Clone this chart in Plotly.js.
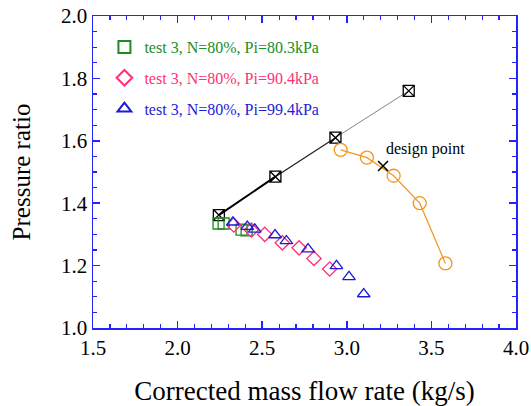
<!DOCTYPE html>
<html>
<head>
<meta charset="utf-8">
<script src="https://cdn.plot.ly/plotly-3.0.1.min.js"></script>
<style>html,body{margin:0;padding:0;background:#fff;}#chart{width:531px;height:406px;}</style>
</head>
<body>
<div id="chart"></div>
<script>
// Design line (square-x markers)
const designX = [2.244, 2.578, 2.933, 3.366];
const designY = [1.362, 1.485, 1.610, 1.760];
// Orange speed line (circles)
const orangeX = [2.964, 3.119, 3.277, 3.431, 3.583];
const orangeY = [1.571, 1.546, 1.488, 1.400, 1.207];
// Design point
const dpX = [3.214];
const dpY = [1.519];
// test 3, Pi=80.3kPa
const g80X = [2.242, 2.272, 2.378, 2.408];
const g80Y = [1.335, 1.335, 1.315, 1.313];
// test 3, Pi=90.4kPa
const p90X = [2.332, 2.436, 2.515, 2.619, 2.718, 2.806, 2.899];
const p90Y = [1.330, 1.314, 1.300, 1.273, 1.257, 1.223, 1.189];
// test 3, Pi=99.4kPa
const b99X = [2.327, 2.412, 2.456, 2.576, 2.643, 2.771, 2.939, 3.013, 3.100];
const b99Y = [1.339, 1.325, 1.316, 1.298, 1.279, 1.253, 1.199, 1.164, 1.109];

const FONT = 'Liberation Serif';
const AXC = '#2323ff';

const traces = [
  {x: designX.slice(0,2), y: designY.slice(0,2), mode: 'lines', line: {color: '#000', width: 2}, showlegend: false, hoverinfo: 'skip'},
  {x: designX.slice(1,3), y: designY.slice(1,3), mode: 'lines', line: {color: '#222', width: 1.3}, showlegend: false, hoverinfo: 'skip'},
  {x: designX.slice(2,4), y: designY.slice(2,4), mode: 'lines', line: {color: '#777', width: 0.9}, showlegend: false, hoverinfo: 'skip'},
  {x: designX, y: designY, mode: 'markers', marker: {symbol: 'square-x-open', size: 11, color: '#000', line: {width: 1.3, color: '#000'}}, showlegend: false},
  {x: orangeX, y: orangeY, mode: 'lines+markers', line: {color: '#f7941d', width: 1.2}, marker: {symbol: 'circle-open', size: 13, color: '#f7941d', line: {width: 1.3, color: '#f7941d'}}, showlegend: false},
  {x: dpX, y: dpY, mode: 'markers', marker: {symbol: 'x-thin-open', size: 10, color: '#000', line: {width: 1.5, color: '#000'}}, showlegend: false},
  {x: g80X, y: g80Y, mode: 'markers', legendgroup: 'g1', name: '<span style="color:#1e8c1e">test 3, N=80%, Pi=80.3kPa</span>', marker: {symbol: 'square-open', size: 11, color: '#1e8c1e', line: {width: 1.3, color: '#1e8c1e'}}},
  {x: p90X, y: p90Y, mode: 'markers', legendgroup: 'g2', name: '<span style="color:#ff2f7a">test 3, N=80%, Pi=90.4kPa</span>', marker: {symbol: 'diamond-open', size: 11, color: '#ff2f7a', line: {width: 1.3, color: '#ff2f7a'}}},
  {x: b99X, y: b99Y, mode: 'markers', legendgroup: 'g3', name: '<span style="color:#1c1cd6">test 3, N=80%, Pi=99.4kPa</span>', marker: {symbol: 'triangle-up-open', size: 11, color: '#1c1cd6', line: {width: 1.3, color: '#1c1cd6'}}}
];

const axisCommon = {
  showgrid: false, zeroline: false, showline: true, linecolor: AXC, linewidth: 1.5,
  ticks: 'inside', ticklen: 7, tickwidth: 1.5, tickcolor: AXC, mirror: 'ticks'
};

const layout = {
  width: 531, height: 406,
  margin: {l: 93, r: 15, t: 16, b: 78},
  paper_bgcolor: '#fff', plot_bgcolor: '#fff',
  font: {family: FONT, color: '#000'},
  xaxis: Object.assign({}, axisCommon, {
    range: [1.5, 4.0], tick0: 1.5, dtick: 0.5, tickformat: '.1f',
    tickfont: {family: FONT, size: 21, color: '#000'},
    minor: {dtick: 0.1, ticks: 'inside', ticklen: 4, tickwidth: 1.2, tickcolor: AXC},
    title: {text: 'Corrected mass flow rate (kg/s)', font: {family: FONT, size: 27, color: '#000'}, standoff: 22}
  }),
  yaxis: Object.assign({}, axisCommon, {
    range: [1.0, 2.0], tick0: 1.0, dtick: 0.2, tickformat: '.1f',
    tickfont: {family: FONT, size: 21, color: '#000'},
    minor: {dtick: 0.05, ticks: 'inside', ticklen: 4, tickwidth: 1.2, tickcolor: AXC},
    title: {text: 'Pressure ratio', font: {family: FONT, size: 25, color: '#000'}, standoff: 23}
  }),
  legend: {x: 0.027, y: 0.955, xanchor: 'left', yanchor: 'top', bgcolor: 'rgba(0,0,0,0)',
    font: {family: FONT, size: 16}, tracegroupgap: 7, traceorder: 'grouped', itemsizing: 'constant'},
  annotations: [
    {x: 3.22, y: 1.574, xref: 'x', yref: 'y', text: 'design point', showarrow: false, xanchor: 'left', yanchor: 'middle',
     font: {family: FONT, size: 16, color: '#000'}}
  ]
};

Plotly.newPlot('chart', traces, layout, {displayModeBar: false, staticPlot: true});
</script>
</body>
</html>
